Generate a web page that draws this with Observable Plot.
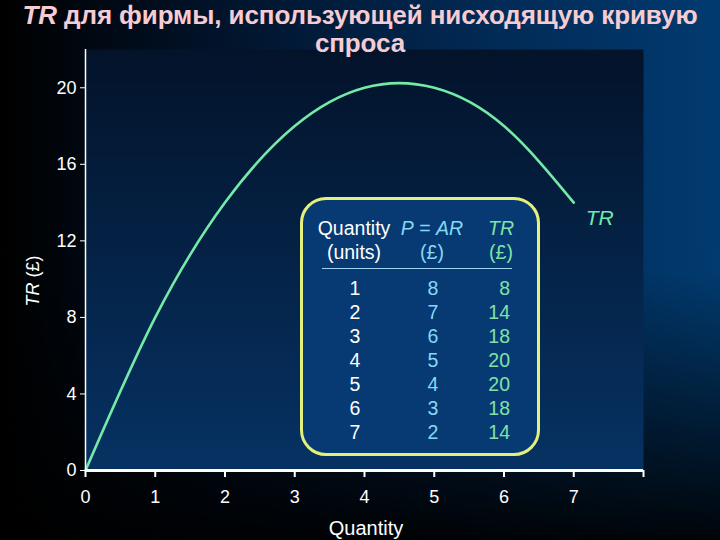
<!DOCTYPE html>
<html><head><meta charset="utf-8">
<script src="https://cdn.jsdelivr.net/npm/d3@7"></script>
<script src="https://cdn.jsdelivr.net/npm/@observablehq/plot@0.6"></script>
<style>
html,body{margin:0;padding:0;width:720px;height:540px;overflow:hidden;background:#000}
#wrap{position:relative;width:720px;height:540px;overflow:hidden;font-family:Arial,"Liberation Sans",sans-serif;
background:linear-gradient(to bottom,rgba(0,0,0,0) 50%,rgba(0,0,0,0.92) 100%),linear-gradient(to right,#000 0%,#01132a 30%,#022b57 70%,#013b70 100%);}
#title{position:absolute;left:0;top:1px;width:720px;text-align:center;color:#f6ccd3;font-weight:bold;font-size:26px;line-height:28px;z-index:3;letter-spacing:-0.1px}
#chart{position:absolute;left:0;top:0}
#ylab{position:absolute;left:33px;top:281px;transform:translate(-50%,-50%) rotate(-90deg);color:#fff;font-size:18px;white-space:nowrap}
#xlab{position:absolute;left:366px;top:528px;transform:translate(-50%,-50%);color:#fff;font-size:20px}
#tbl{position:absolute;left:300px;top:197px;width:240px;height:259px;box-sizing:border-box;border:3px solid #e4f07c;border-radius:26px;background:#073a72;z-index:2}
#tbl .c{position:absolute;font-size:19.5px;line-height:24px;white-space:nowrap}
#tbl .sep{position:absolute;left:19px;width:190px;top:68px;height:0;border-top:1.5px solid #9fd4f2}
</style></head>
<body><div id="wrap">
<div id="title"><i>TR</i> для фирмы, использующей нисходящую кривую<br>спроса</div>
<div id="chart"></div>
<div id="ylab"><i>TR</i> (£)</div>
<div id="xlab">Quantity</div>
<div id="tbl"></div>
</div>
<script>
// Curve data
const quantity = [0, 1, 2, 3, 4, 5, 6, 7];
const totalRevenue = [0, 8, 14, 18, 20, 20, 18, 14];
// Table data
const tableQuantity = [1, 2, 3, 4, 5, 6, 7];
const tablePrice = [8, 7, 6, 5, 4, 3, 2];
const tableTR = [8, 14, 18, 20, 20, 18, 14];
// Ticks
const xTicks = [0, 1, 2, 3, 4, 5, 6, 7, 8];
const xTickLabels = ["0", "1", "2", "3", "4", "5", "6", "7", ""];
const yTicks = [0, 4, 8, 12, 16, 20];

const curveData = quantity.map((q, i) => ({q, tr: totalRevenue[i]}));
const green = "#74eaa8";

const plot = Plot.plot({
  width: 720, height: 540,
  marginLeft: 85, marginRight: 77, marginTop: 49, marginBottom: 70,
  style: {background: "transparent", color: "#fff", fontFamily: "Arial, 'Liberation Sans', sans-serif", fontSize: "18px"},
  x: {domain: [0, 8]},
  y: {domain: [0, 22]},
  marks: [
    Plot.frame({fill: "url(#plotGrad)", stroke: "none"}),
    Plot.line(curveData, {x: "q", y: "tr", curve: "natural", stroke: green, strokeWidth: 2.6}),
    Plot.ruleX([0], {stroke: "#fff", strokeWidth: 1.5}),
    Plot.ruleY([0], {stroke: "#fff", strokeWidth: 3}),
    Plot.axisY({ticks: yTicks, tickSize: 5, tickPadding: 4, label: null, stroke: "#fff", fill: "#fff", fontSize: 18}),
    Plot.axisX({ticks: xTicks, tickSize: 7, tickPadding: 13, label: null, stroke: "#fff", strokeWidth: 2, fill: "#fff", fontSize: 18,
      tickFormat: d => xTickLabels[xTicks.indexOf(d)]}),
    Plot.text([curveData[curveData.length - 1]], {x: "q", y: "tr", text: () => "TR", dx: 26, dy: 16, fill: green, fontSize: 21, fontStyle: "italic"})
  ]
});

const svg = d3.select(plot);
const grad = svg.insert("defs", ":first-child").append("linearGradient")
  .attr("id", "plotGrad").attr("x1", 0).attr("y1", 0).attr("x2", 0).attr("y2", 1);
grad.append("stop").attr("offset", "0%").attr("stop-color", "#03132a");
grad.append("stop").attr("offset", "100%").attr("stop-color", "#063263");
document.getElementById("chart").appendChild(plot);

// Table
const tbl = d3.select("#tbl");
const white = "#ffffff", cyan = "#86d8f6", tgreen = "#80e2a6";
function cell(text, x, y, color, anchor, html) {
  const d = tbl.append("div").attr("class", "c").style("top", (y - 3 - 12) + "px").style("color", color);
  if (html) d.html(text); else d.text(text);
  if (anchor === "middle") d.style("left", (x - 3) + "px").style("transform", "translateX(-50%)");
  else d.style("right", (240 - 3 - x) + "px");
}
cell("Quantity", 54, 31, white, "middle");
cell("(units)", 54, 55, white, "middle");
cell("<i>P</i> = <i>AR</i>", 132, 31, cyan, "middle", true);
cell("(£)", 132, 55, cyan, "middle");
cell("<i>TR</i>", 201, 31, tgreen, "middle", true);
cell("(£)", 201, 55, tgreen, "middle");
tbl.append("div").attr("class", "sep");
tableQuantity.forEach((q, i) => {
  const y = 91 + 24 * i;
  cell(String(q), 55, y, white, "middle");
  cell(String(tablePrice[i]), 133, y, cyan, "middle");
  cell(String(tableTR[i]), 210, y, tgreen, "end");
});
</script>
</body></html>
